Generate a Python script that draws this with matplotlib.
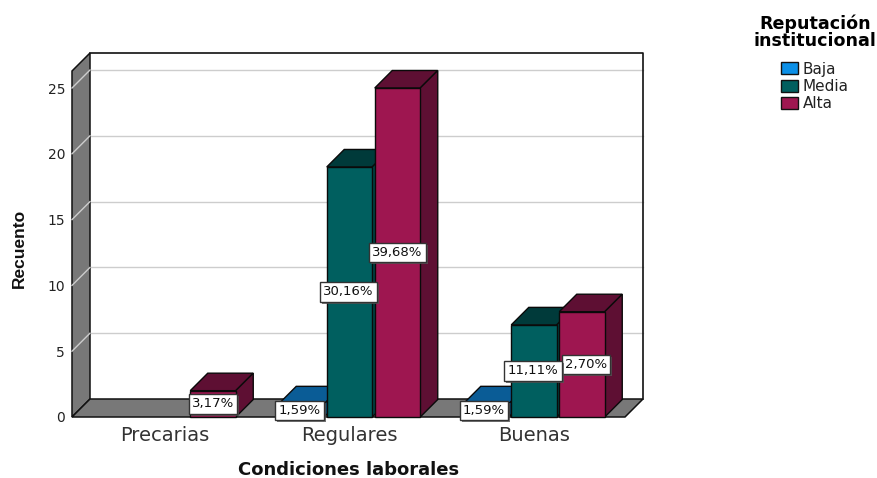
import matplotlib
matplotlib.use("Agg")
import matplotlib.pyplot as plt
from matplotlib.patches import Patch
import matplotlib.patheffects as pe

categories = ["Precarias", "Regulares", "Buenas"]
baja = [0, 1, 1]
media = [0, 19, 7]
alta = [2, 25, 8]
baja_labels = [None, "1,59%", "1,59%"]
media_labels = [None, "30,16%", "11,11%"]
alta_labels = ["3,17%", "39,68%", "2,70%"]
y_ticks = [0, 5, 10, 15, 20, 25]
series_names = ["Baja", "Media", "Alta"]

W, H = 878, 478
L, R, B, T = 72, 625, 417, 71
PX_Y = 13.16
PX_X = 184.5
C0 = 165

fig = plt.figure(figsize=(W / 100, H / 100), dpi=100)
ax = fig.add_axes([L / W, 1 - B / H, (R - L) / W, (B - T) / H])
ax.set_xlim((L - C0) / PX_X, (R - C0) / PX_X)
ax.set_ylim(0, (B - T) / PX_Y)
ax.patch.set_visible(False)
for s in ["top", "right", "bottom", "left"]:
    ax.spines[s].set_visible(False)

ddx = 18 / PX_X
ddy = 18 / PX_Y
bdx = 17.5 / PX_X
bdy = 17.5 / PX_Y
x0, x1 = ax.get_xlim()
ytop = ax.get_ylim()[1]
WALL = "#787878"
GRID = "#cdcdcd"

# back wall grid, walls, floor
for t in y_ticks[1:]:
    ax.plot([x0 + ddx, x1 + ddx], [t + ddy, t + ddy], color=GRID, lw=1.0, zorder=1, clip_on=False)
ax.fill([x0, x0 + ddx, x0 + ddx, x0], [ytop, ytop + ddy, ddy, 0], fc=WALL, ec="#111111", lw=1.1, zorder=2, clip_on=False)
ax.fill([x0, x0 + ddx, x1 + ddx, x1], [0, ddy, ddy, 0], fc=WALL, ec="#111111", lw=1.1, zorder=2, clip_on=False)
ax.plot([x0 + ddx, x1 + ddx, x1 + ddx], [ytop + ddy, ytop + ddy, ddy], color="#111111", lw=1.2, zorder=2, clip_on=False)
for t in y_ticks[1:]:
    ax.plot([x0, x0 + ddx], [t, t + ddy], color=GRID, lw=1.0, zorder=3, clip_on=False)

offsets = [-48 / PX_X, 0, 48 / PX_X]
bar_w = 45.5 / PX_X
colors = [("#0b8fe6", "#0a5c96", "#07466f"),
          ("#005f5f", "#003a3a", "#004545"),
          ("#9e1650", "#5e0f33", "#5e0f33")]
all_vals = [baja, media, alta]

z = 4
for vals, off, (front, top, side) in zip(all_vals, offsets, colors):
    for i, v in enumerate(vals):
        if v == 0:
            continue
        xl = i + off - bar_w / 2
        xr = i + off + bar_w / 2
        ax.fill([xl, xl + bdx, xr + bdx, xr], [v, v + bdy, v + bdy, v], fc=top, ec="#0a0a0a", lw=1, zorder=z, clip_on=False)
        ax.fill([xr, xr + bdx, xr + bdx, xr], [0, bdy, v + bdy, v], fc=side, ec="#0a0a0a", lw=1, zorder=z, clip_on=False)
        ax.bar(i + off, v, width=bar_w, color=front, ec="#0a0a0a", lw=1, zorder=z + 0.5, clip_on=False)
    z += 1

box = dict(boxstyle="square,pad=0.25", fc="white", ec="#333333", lw=1)
z = 10
label_sets = [(alta, alta_labels, offsets[2], [0, 0, 4]),
              (media, media_labels, offsets[1], [-1, -1, -1]),
              (baja, baja_labels, offsets[0], [-2, -2, -2])]
for vals, labs, off, nudges in label_sets:
    for i, (v, lab, n) in enumerate(zip(vals, labs, nudges)):
        if lab is None:
            continue
        t = ax.text(i + off + n / PX_X, v / 2, lab, ha="center", va="center", fontsize=9.5,
                    family="DejaVu Sans", color="#111111", bbox=box, zorder=z, clip_on=False)
        t.get_bbox_patch().set_path_effects([
            pe.SimplePatchShadow(offset=(1.4, -1.4), shadow_rgbFace="#555555", alpha=0.8),
            pe.Normal()])
        z += 1

ax.set_xticks(range(len(categories)))
ax.set_xticklabels(categories, fontsize=14, family="DejaVu Sans", color="#333333")
ax.set_yticks(y_ticks)
ax.set_yticklabels([str(t) for t in y_ticks], fontsize=10, family="DejaVu Sans", color="#222222")
ax.tick_params(axis="both", length=0)
ax.tick_params(axis="x", pad=6.5)
ax.tick_params(axis="y", pad=5)

fig.text(349 / W, 1 - 470 / H, "Condiciones laborales", ha="center", va="center",
         fontsize=13, fontweight="bold", family="DejaVu Sans", color="#111111")
fig.text(19 / W, 1 - 248 / H, "Recuento", rotation=90, ha="center", va="center",
         fontsize=12.5, fontweight="bold", family="Liberation Sans", color="#111111")

handles = [Patch(fc=c[0], ec="#111111", lw=1, label=n) for c, n in zip(colors, series_names)]
leg = fig.legend(handles=handles, title="Reputación\ninstitucional", loc="center",
                 bbox_to_anchor=(815 / W, 1 - 63 / H), frameon=False, fontsize=11,
                 handlelength=1.1, handleheight=0.85, handletextpad=0.3, labelspacing=0.16,
                 alignment="center", borderpad=0, borderaxespad=0,
                 title_fontproperties={"family": "DejaVu Sans", "weight": "bold", "size": 12.6})
leg.get_title().set_multialignment("center")
leg.get_title().set_linespacing(0.95)
for t in leg.get_texts():
    t.set_family("DejaVu Sans")
    t.set_color("#222222")
leg._legend_box.sep = 8

fig.savefig("out.png", dpi=100)
